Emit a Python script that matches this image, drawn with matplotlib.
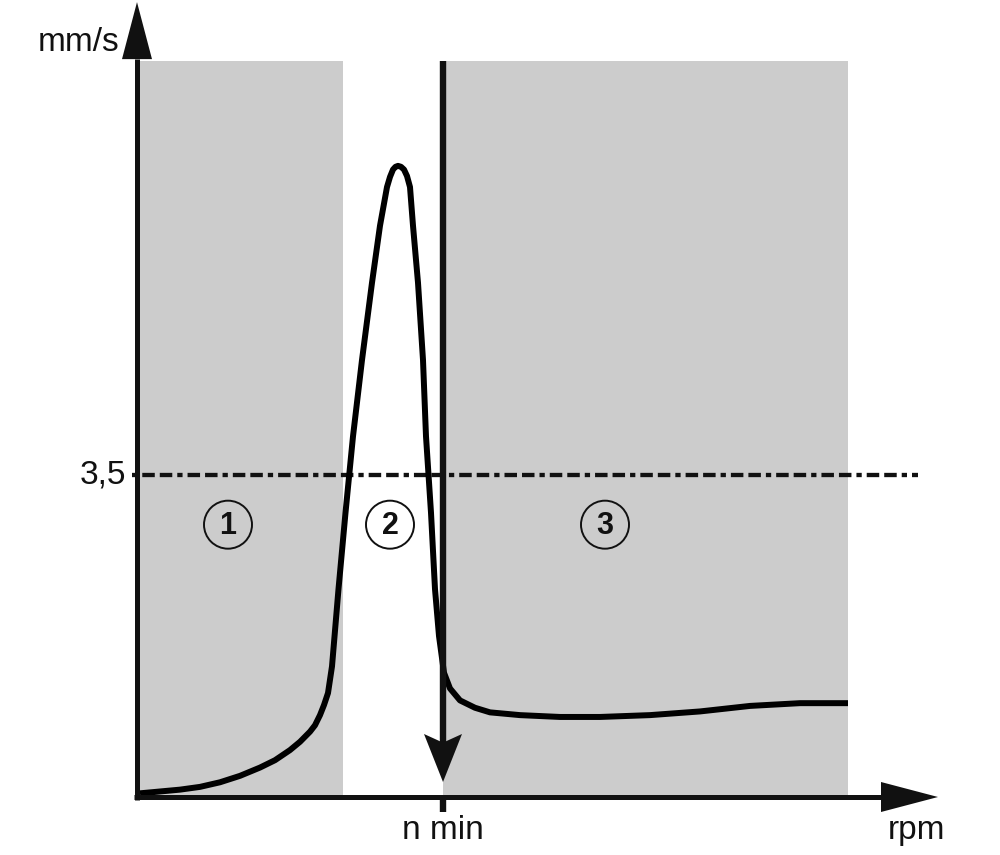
import matplotlib
matplotlib.use("Agg")
import matplotlib.pyplot as plt
from matplotlib.patches import Rectangle, Ellipse, Polygon

plt.rcParams['font.family'] = ['Liberation Sans', 'DejaVu Sans']
plt.rcParams['lines.scale_dashes'] = False

# ---- data (x: rpm, arbitrary units; y: mm/s) ----
curve_x = [3, 43, 63, 83, 103, 123, 138, 153, 163, 173, 178, 183, 187, 191, 195,
           201.5, 208.5, 216, 225, 235, 243, 250, 253, 256, 258.5, 261, 264, 267, 270,
           273, 276, 281, 286, 289, 294, 298, 302, 307, 313, 323, 338, 353, 383,
           423, 463, 513, 563, 613, 663, 711]
curve_y = [0.04, 0.08, 0.11, 0.16, 0.23, 0.32, 0.40, 0.51, 0.60, 0.71, 0.78, 0.89,
           1.00, 1.13, 1.42, 2.26, 3.09, 3.92, 4.75, 5.59, 6.21, 6.63, 6.74, 6.82,
           6.85, 6.86, 6.85, 6.82, 6.75, 6.63, 6.21, 5.59, 4.75, 3.92, 3.09, 2.26,
           1.75, 1.35, 1.18, 1.05, 0.97, 0.92, 0.89, 0.87, 0.87, 0.89, 0.93, 0.99,
           1.02, 1.02]
zone1 = (0, 206)
zone3 = (306, 711)
zone_top = 8.0
n_min = 306
limit = 3.5
limit_start = -5
limit_end = 781
zone_labels = ['1', '2', '3']
zone_label_x = [91, 253, 468]
zone_label_y = 2.96
x_axis_end = 801
y_axis_end = 8.64

# ---- figure: axes mapped so that 1 x-unit = 1 px, 1 mm/s = 92 px ----
W, H, DPI = 1000, 855, 100
fig = plt.figure(figsize=(W / DPI, H / DPI), dpi=DPI)
ax = fig.add_axes([0, 0, 1, 1])
x0_px, y0_px, ypx = 137, 797, 92.0
ax.set_xlim(-x0_px, W - x0_px)
ax.set_ylim(-(H - y0_px) / ypx, y0_px / ypx)
ax.axis('off')

gray = '#cccccc'
ax.add_patch(Rectangle((zone1[0], 0), zone1[1] - zone1[0], zone_top, color=gray, lw=0, zorder=0))
ax.add_patch(Rectangle((zone3[0], 0), zone3[1] - zone3[0], zone_top, color=gray, lw=0, zorder=0))

# limit line (dash-dash-dot)
ax.hlines(limit, limit_start, limit_end, colors='#111111', lw=3.1,
          linestyles=[(0, (3.8, 3.6, 9.0, 3.6, 9.0, 3.6))], zorder=2)

# curve
ax.plot(curve_x, curve_y, color='black', lw=4.3, solid_capstyle='butt',
        solid_joinstyle='round', zorder=4)

# axes with arrow heads
hw = 15          # half-width of arrow heads in px (= x units)
hl = 57          # head length in px
ax.plot([-3, x_axis_end - hl], [0, 0], color='#111111', lw=3.6, solid_capstyle='butt', zorder=5)
ax.add_patch(Polygon([(x_axis_end - hl, hw / ypx), (x_axis_end, 0), (x_axis_end - hl, -hw / ypx)],
                     closed=True, color='#111111', lw=0, zorder=5))
ax.plot([0, 0], [-0.03, y_axis_end - hl / ypx], color='#111111', lw=3.6, solid_capstyle='butt', zorder=5)
ax.add_patch(Polygon([(-hw, y_axis_end - hl / ypx), (0, y_axis_end), (hw, y_axis_end - hl / ypx)],
                     closed=True, color='#111111', lw=0, zorder=5))

# n min vertical line with downward arrow
arrow_tip = 15 / ypx
ah_len = 48 / ypx
ax.plot([n_min, n_min], [zone_top, arrow_tip + ah_len * 0.8], color='#111111', lw=4.6,
        solid_capstyle='butt', zorder=5)
ax.add_patch(Polygon([(n_min - 19, arrow_tip + ah_len), (n_min, arrow_tip),
                      (n_min + 19, arrow_tip + ah_len), (n_min, arrow_tip + ah_len * 0.82)],
                     closed=True, color='#111111', lw=0, zorder=5))
# tick below axis
ax.plot([n_min, n_min], [0, -15 / ypx], color='#111111', lw=4.6, solid_capstyle='butt', zorder=5)

# texts
fs = 24
ax.text(-18, 8.2, 'mm/s', fontsize=fs, ha='right', va='center', color='#111111')
ax.text(-11, limit, '3,5', fontsize=fs, ha='right', va='center', color='#111111')
ax.text(n_min, -0.36, 'n min', fontsize=fs, ha='center', va='center', color='#111111')
ax.text(780, -0.36, 'rpm', fontsize=fs, ha='center', va='center', color='#111111')

r_px = 24
for lab, lx in zip(zone_labels, zone_label_x):
    ax.add_patch(Ellipse((lx, zone_label_y), 2 * r_px, 2 * r_px / ypx, fill=False,
                         edgecolor='#111111', lw=1.4, zorder=6))
    ax.text(lx, zone_label_y - 0.01, lab, fontsize=22, fontweight='bold', ha='center',
            va='center', color='#111111', zorder=7)

fig.savefig('out.png', dpi=DPI)
